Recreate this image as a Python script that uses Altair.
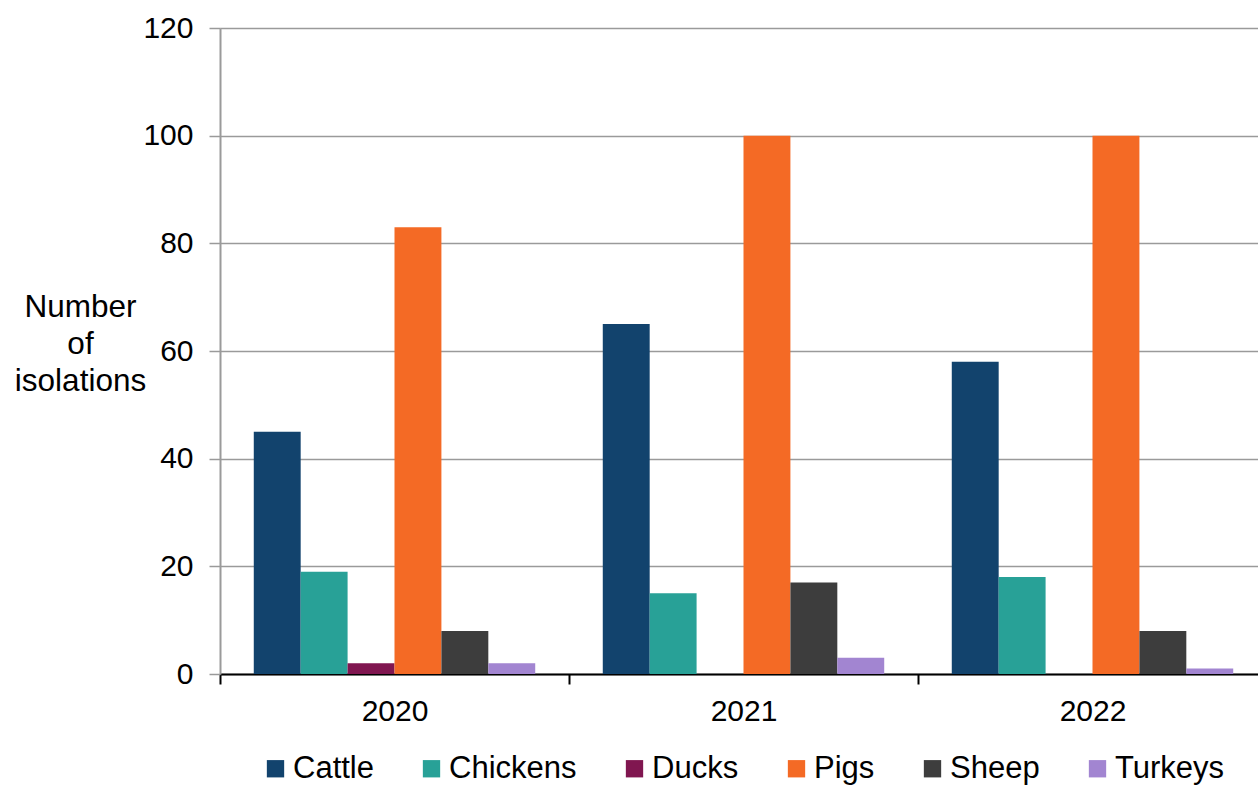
import altair as alt
import pandas as pd

years = ["2020", "2021", "2022"]
species = ["Cattle", "Chickens", "Ducks", "Pigs", "Sheep", "Turkeys"]
values = {
    "2020": [45, 19, 2, 83, 8, 2],
    "2021": [65, 15, 0, 100, 17, 3],
    "2022": [58, 18, 0, 100, 8, 1],
}
colors = ["#12436D", "#28A197", "#801650", "#F46A25", "#3D3D3D", "#A285D1"]

rows = []
for y in years:
    for s, v in zip(species, values[y]):
        rows.append({"Year": y, "Species": s, "Value": v})
df = pd.DataFrame(rows)

FONT = "Liberation Sans"

chart = alt.Chart(df).mark_bar().encode(
    x=alt.X("Year:N", sort=years,
            scale=alt.Scale(paddingInner=0, paddingOuter=0, range=[0, 1047]),
            axis=alt.Axis(title=None, labelAngle=0, tickBand="extent",
                          domainColor="#000000", domainWidth=2,
                          tickColor="#000000", tickWidth=2, tickSize=10,
                          labelPadding=12, labelFontSize=30, labelFont=FONT,
                          labelColor="#000000")),
    xOffset=alt.XOffset("Species:N", sort=species,
                        scale=alt.Scale(paddingInner=0, paddingOuter=0.72)),
    y=alt.Y("Value:Q", scale=alt.Scale(domain=[0, 120]),
            axis=alt.Axis(title=["Number", "of", "isolations"], values=[0, 20, 40, 60, 80, 100, 120],
                          titleAngle=0, titleAlign="center", titleBaseline="middle",
                          titleX=-140, titleY=279, titleFontSize=31.5, titleFont=FONT,
                          titleFontWeight="normal", titleLineHeight=37, titleColor="#000000",
                          grid=True, gridColor="#9a9a9a", gridWidth=1.5,
                          domainColor="#9a9a9a", domainWidth=2,
                          tickColor="#9a9a9a", tickWidth=1.5, tickSize=11,
                          labelPadding=16, labelFontSize=30, labelFont=FONT,
                          labelColor="#000000")),
    color=alt.Color("Species:N", sort=species,
                    scale=alt.Scale(domain=species, range=colors),
                    legend=alt.Legend(title=None, orient="none", direction="horizontal",
                                      legendX=40, legendY=725,
                                      symbolType="square", symbolSize=300,
                                      symbolStrokeWidth=0, symbolOpacity=1,
                                      labelFontSize=31, labelFont=FONT, labelColor="#000000",
                                      labelOffset=2, columnPadding=42)),
).properties(
    width=1038, height=646,
    padding={"left": 220, "top": 28, "right": 0, "bottom": 111},
    autosize=alt.AutoSizeParams(type="none"),
).configure_view(stroke=None).configure(background="white")

chart.save("out.html", embed_options={"renderer": "svg", "actions": False})
